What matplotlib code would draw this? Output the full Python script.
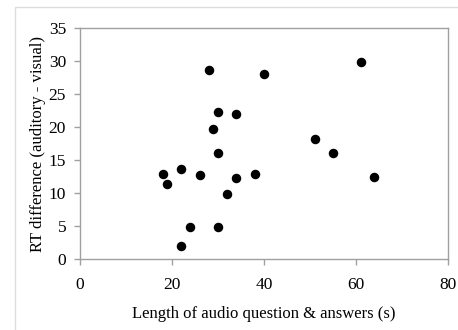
import matplotlib
matplotlib.use("Agg")
import matplotlib.pyplot as plt
from matplotlib.patches import Rectangle

# audio length (s) vs RT difference
length_s = [18, 19, 22, 22, 24, 26, 28, 29, 30, 30, 30, 32, 34, 34, 38, 40, 51, 55, 61, 64]
rt_diff = [12.9, 11.3, 13.6, 2.0, 4.8, 12.7, 28.7, 19.7, 22.2, 16.1, 4.8, 9.9,
           21.9, 12.2, 12.9, 28.1, 18.2, 16.0, 29.8, 12.5]
x_ticks = [0, 20, 40, 60, 80]
y_ticks = [0, 5, 10, 15, 20, 25, 30, 35]

plt.rcParams['font.family'] = ['Liberation Serif', 'DejaVu Serif']

fig = plt.figure(figsize=(4.58, 3.30), dpi=100)
# light gray frame around the chart
fig.patches.append(Rectangle((15/458, -0.1), 1.2, 1 - 7/330 + 0.1, transform=fig.transFigure,
                             fill=False, edgecolor='#dddddd', linewidth=1))
ax = fig.add_axes([80/458, 1 - 259/330, 368/458, 231/330])

ax.scatter(length_s, rt_diff, s=34, color='black', zorder=3, clip_on=False)

ax.set_xlim(0, 80)
ax.set_ylim(0, 35)
ax.set_xticks(x_ticks)
ax.set_yticks(y_ticks)
for sp in ax.spines.values():
    sp.set_color('#a0a0a0')
    sp.set_linewidth(1)
ax.tick_params(direction='out', length=4, color='#a0a0a0', labelsize=12.5, width=1)
ax.tick_params(axis='x', pad=9)
ax.tick_params(axis='y', pad=6)
ax.set_xlabel("Length of audio question & answers (s)", fontsize=12, labelpad=9)
ax.set_ylabel("RT difference (auditory - visual)", fontsize=12, labelpad=2)

fig.savefig("out.png", dpi=100)
